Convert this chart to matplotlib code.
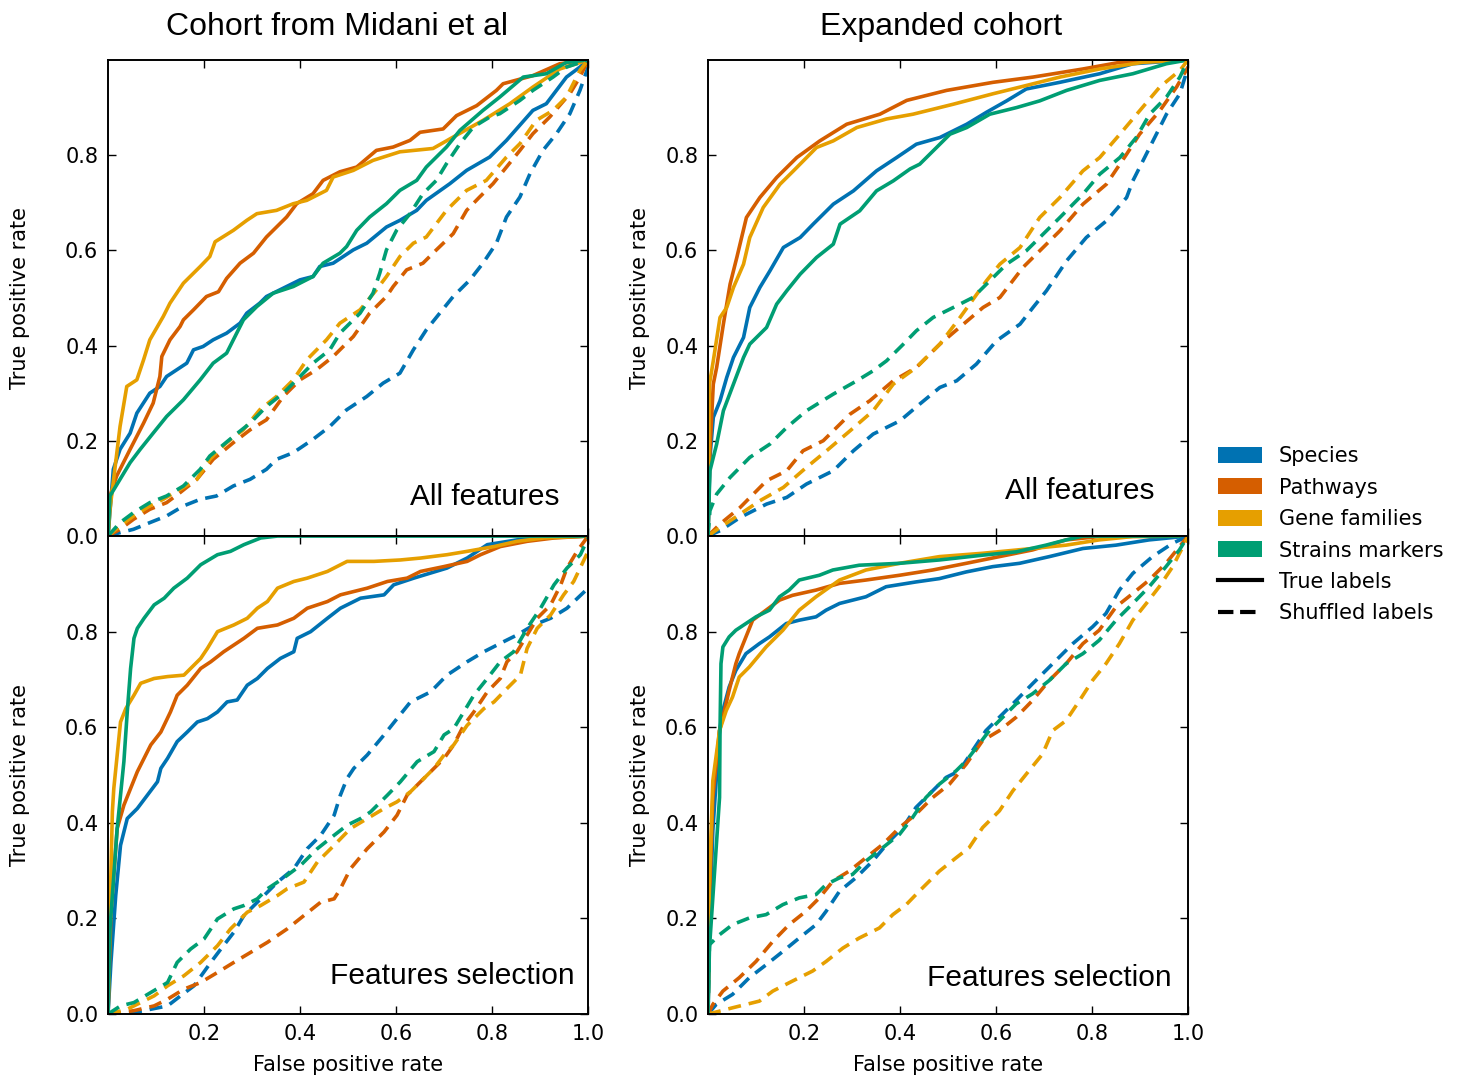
import matplotlib.pyplot as plt
from matplotlib.patches import Patch
from matplotlib.lines import Line2D

plt.rcParams['font.family'] = ['DejaVu Sans']

categories = ['Species', 'Pathways', 'Gene families', 'Strains markers']
colors = ['#0072B2', '#D55E00', '#E69F00', '#009E73']
column_titles = ['Cohort from Midani et al', 'Expanded cohort']
row_texts = ['All features', 'Features selection']
y_ticks = [0.0, 0.2, 0.4, 0.6, 0.8]
x_ticks = [0.2, 0.4, 0.6, 0.8, 1.0]

# ROC curves, (fpr, tpr)
# --- Midani cohort, all features ---
mid_all_species = [(0, 0), (0.011, 0.140), (0.025, 0.182), (0.046, 0.216), (0.060, 0.258), (0.087, 0.300),
                   (0.108, 0.314), (0.122, 0.335), (0.143, 0.349), (0.164, 0.363), (0.178, 0.391), (0.198, 0.398),
                   (0.219, 0.412), (0.247, 0.426), (0.275, 0.447), (0.289, 0.468), (0.316, 0.489), (0.330, 0.503),
                   (0.372, 0.524), (0.400, 0.538), (0.427, 0.545), (0.441, 0.566), (0.469, 0.573), (0.511, 0.601),
                   (0.539, 0.615), (0.580, 0.649), (0.608, 0.663), (0.643, 0.684), (0.663, 0.705), (0.712, 0.740),
                   (0.747, 0.768), (0.795, 0.796), (0.830, 0.831), (0.885, 0.894), (0.913, 0.908), (0.955, 0.964),
                   (0.983, 0.985), (1.0, 1.0)]
mid_all_pathways = [(0, 0), (0.004, 0.084), (0.018, 0.126), (0.046, 0.182), (0.074, 0.237), (0.094, 0.279),
                    (0.108, 0.335), (0.112, 0.377), (0.129, 0.412), (0.150, 0.440), (0.157, 0.454), (0.178, 0.475),
                    (0.205, 0.503), (0.230, 0.513), (0.247, 0.541), (0.275, 0.573), (0.303, 0.594), (0.330, 0.628),
                    (0.372, 0.670), (0.393, 0.698), (0.427, 0.719), (0.448, 0.747), (0.483, 0.765), (0.518, 0.775),
                    (0.559, 0.810), (0.594, 0.817), (0.629, 0.831), (0.650, 0.848), (0.698, 0.855), (0.726, 0.883),
                    (0.768, 0.904), (0.809, 0.936), (0.823, 0.950), (0.885, 0.967), (0.941, 0.992), (1.0, 1.0)]
mid_all_genes = [(0, 0), (0.004, 0.056), (0.015, 0.147), (0.025, 0.230), (0.039, 0.314), (0.060, 0.328),
                 (0.074, 0.370), (0.087, 0.412), (0.115, 0.461), (0.129, 0.489), (0.157, 0.531), (0.192, 0.566),
                 (0.212, 0.587), (0.223, 0.618), (0.261, 0.642), (0.289, 0.663), (0.310, 0.677), (0.351, 0.684),
                 (0.386, 0.698), (0.414, 0.705), (0.455, 0.726), (0.469, 0.754), (0.511, 0.768), (0.552, 0.789),
                 (0.608, 0.807), (0.677, 0.814), (0.719, 0.838), (0.781, 0.873), (0.837, 0.908), (0.885, 0.943),
                 (0.941, 0.981), (1.0, 1.0)]
mid_all_strains = [(0, 0), (0.004, 0.084), (0.025, 0.119), (0.046, 0.154), (0.067, 0.182), (0.094, 0.216),
                   (0.122, 0.251), (0.157, 0.286), (0.192, 0.328), (0.219, 0.363), (0.247, 0.384), (0.282, 0.454),
                   (0.310, 0.482), (0.344, 0.510), (0.386, 0.524), (0.427, 0.545), (0.448, 0.573), (0.483, 0.594),
                   (0.497, 0.608), (0.518, 0.642), (0.545, 0.670), (0.580, 0.698), (0.608, 0.726), (0.643, 0.747),
                   (0.663, 0.775), (0.705, 0.817), (0.733, 0.852), (0.781, 0.894), (0.816, 0.922), (0.865, 0.964),
                   (0.913, 0.971), (0.955, 0.995), (1.0, 1.0)]
mid_all_species_shuf = [(0, 0), (0.025, 0.007), (0.053, 0.014), (0.087, 0.028), (0.122, 0.042), (0.157, 0.063),
                        (0.192, 0.077), (0.226, 0.084), (0.261, 0.105), (0.296, 0.119), (0.330, 0.140), (0.351, 0.161),
                        (0.386, 0.175), (0.427, 0.203), (0.462, 0.230), (0.497, 0.265), (0.539, 0.293), (0.573, 0.321),
                        (0.608, 0.342), (0.636, 0.391), (0.663, 0.433), (0.691, 0.468), (0.719, 0.503), (0.754, 0.538),
                        (0.781, 0.573), (0.809, 0.615), (0.830, 0.670), (0.858, 0.712), (0.879, 0.761), (0.906, 0.810),
                        (0.934, 0.845), (0.962, 0.887), (0.983, 0.936), (1.0, 0.985)]
mid_all_pathways_shuf = [(0, 0), (0.025, 0.014), (0.053, 0.035), (0.087, 0.056), (0.122, 0.070), (0.150, 0.091),
                         (0.185, 0.119), (0.219, 0.161), (0.261, 0.196), (0.296, 0.223), (0.330, 0.244), (0.365, 0.293),
                         (0.400, 0.328), (0.434, 0.349), (0.469, 0.377), (0.511, 0.419), (0.545, 0.468), (0.580, 0.503),
                         (0.594, 0.524), (0.622, 0.559), (0.656, 0.573), (0.684, 0.601), (0.719, 0.635), (0.747, 0.684),
                         (0.774, 0.712), (0.802, 0.740), (0.830, 0.775), (0.858, 0.810), (0.885, 0.845), (0.920, 0.880),
                         (0.962, 0.929), (0.983, 0.964), (1.0, 1.0)]
mid_all_genes_shuf = [(0, 0), (0.025, 0.021), (0.053, 0.042), (0.087, 0.063), (0.115, 0.077), (0.150, 0.098),
                      (0.185, 0.119), (0.212, 0.161), (0.247, 0.196), (0.282, 0.223), (0.316, 0.265), (0.351, 0.293),
                      (0.386, 0.328), (0.414, 0.370), (0.455, 0.412), (0.483, 0.447), (0.525, 0.475), (0.559, 0.517),
                      (0.580, 0.545), (0.608, 0.587), (0.636, 0.615), (0.663, 0.628), (0.705, 0.684), (0.747, 0.726),
                      (0.788, 0.747), (0.830, 0.796), (0.858, 0.824), (0.892, 0.873), (0.927, 0.894), (0.955, 0.922),
                      (0.983, 0.978), (1.0, 1.0)]
mid_all_strains_shuf = [(0, 0), (0.025, 0.028), (0.053, 0.049), (0.087, 0.070), (0.122, 0.084), (0.157, 0.105),
                        (0.192, 0.140), (0.212, 0.168), (0.261, 0.209), (0.296, 0.237), (0.330, 0.272), (0.365, 0.300),
                        (0.400, 0.335), (0.427, 0.363), (0.462, 0.391), (0.483, 0.426), (0.525, 0.468), (0.552, 0.510),
                        (0.566, 0.552), (0.580, 0.601), (0.601, 0.642), (0.629, 0.677), (0.656, 0.719), (0.684, 0.747),
                        (0.705, 0.782), (0.733, 0.824), (0.761, 0.859), (0.795, 0.880), (0.816, 0.887), (0.858, 0.915),
                        (0.885, 0.936), (0.927, 0.964), (0.955, 0.985), (1.0, 1.0)]

# --- Expanded cohort, all features ---
exp_all_species = [(0, 0), (0.004, 0.165), (0.011, 0.249), (0.025, 0.284), (0.039, 0.333), (0.053, 0.375),
                   (0.074, 0.417), (0.087, 0.480), (0.108, 0.522), (0.129, 0.557), (0.157, 0.606), (0.192, 0.627),
                   (0.219, 0.655), (0.261, 0.697), (0.303, 0.725), (0.351, 0.767), (0.393, 0.795), (0.434, 0.823),
                   (0.483, 0.837), (0.539, 0.865), (0.580, 0.890), (0.622, 0.914), (0.663, 0.939), (0.733, 0.953),
                   (0.816, 0.971), (0.885, 0.992), (1.0, 1.0)]
exp_all_pathways = [(0, 0), (0.004, 0.179), (0.011, 0.319), (0.018, 0.354), (0.032, 0.445), (0.046, 0.529),
                    (0.060, 0.585), (0.080, 0.669), (0.108, 0.711), (0.143, 0.753), (0.185, 0.795), (0.233, 0.830),
                    (0.289, 0.865), (0.358, 0.886), (0.414, 0.915), (0.497, 0.936), (0.594, 0.953), (0.677, 0.964),
                    (0.781, 0.981), (0.858, 0.995), (1.0, 1.0)]
exp_all_genes = [(0, 0), (0.003, 0.319), (0.011, 0.368), (0.025, 0.459), (0.039, 0.480), (0.053, 0.522),
                 (0.074, 0.571), (0.087, 0.627), (0.115, 0.690), (0.150, 0.739), (0.178, 0.767), (0.226, 0.816),
                 (0.261, 0.830), (0.310, 0.858), (0.372, 0.876), (0.427, 0.886), (0.511, 0.907), (0.594, 0.929),
                 (0.650, 0.943), (0.733, 0.964), (0.816, 0.981), (0.906, 0.995), (1.0, 1.0)]
exp_all_strains = [(0, 0), (0.004, 0.137), (0.018, 0.193), (0.032, 0.263), (0.053, 0.319), (0.074, 0.375),
                   (0.087, 0.403), (0.122, 0.438), (0.143, 0.487), (0.164, 0.515), (0.192, 0.550), (0.226, 0.585),
                   (0.261, 0.613), (0.275, 0.655), (0.316, 0.683), (0.351, 0.725), (0.386, 0.746), (0.421, 0.771),
                   (0.441, 0.781), (0.469, 0.809), (0.504, 0.844), (0.539, 0.858), (0.587, 0.886), (0.643, 0.900),
                   (0.691, 0.914), (0.747, 0.936), (0.816, 0.957), (0.885, 0.971), (0.955, 0.992), (1.0, 1.0)]
exp_all_species_shuf = [(0, 0), (0.025, 0.011), (0.067, 0.039), (0.122, 0.067), (0.164, 0.081), (0.205, 0.109),
                        (0.261, 0.137), (0.303, 0.179), (0.344, 0.214), (0.400, 0.242), (0.441, 0.277), (0.483, 0.312),
                        (0.518, 0.326), (0.559, 0.361), (0.601, 0.410), (0.650, 0.445), (0.677, 0.480), (0.705, 0.515),
                        (0.747, 0.578), (0.788, 0.627), (0.830, 0.662), (0.872, 0.711), (0.885, 0.746), (0.913, 0.802),
                        (0.934, 0.844), (0.955, 0.886), (0.983, 0.929), (1.0, 0.985)]
exp_all_pathways_shuf = [(0, 0), (0.025, 0.025), (0.067, 0.060), (0.122, 0.116), (0.164, 0.137), (0.198, 0.179),
                         (0.240, 0.200), (0.261, 0.221), (0.296, 0.256), (0.337, 0.284), (0.386, 0.326), (0.434, 0.354),
                         (0.483, 0.403), (0.532, 0.445), (0.573, 0.480), (0.608, 0.501), (0.656, 0.564), (0.691, 0.599),
                         (0.733, 0.641), (0.781, 0.697), (0.830, 0.739), (0.872, 0.802), (0.899, 0.844), (0.941, 0.893),
                         (0.976, 0.943), (1.0, 0.985)]
exp_all_genes_shuf = [(0, 0), (0.025, 0.018), (0.067, 0.046), (0.108, 0.074), (0.157, 0.102), (0.205, 0.144),
                      (0.247, 0.179), (0.296, 0.221), (0.344, 0.263), (0.386, 0.319), (0.434, 0.354), (0.483, 0.403),
                      (0.525, 0.459), (0.580, 0.536), (0.608, 0.571), (0.650, 0.606), (0.691, 0.669), (0.733, 0.711),
                      (0.781, 0.767), (0.816, 0.795), (0.858, 0.844), (0.899, 0.893), (0.941, 0.943), (0.983, 0.978),
                      (1.0, 1.0)]
exp_all_strains_shuf = [(0, 0), (0.004, 0.053), (0.018, 0.088), (0.046, 0.123), (0.087, 0.165), (0.129, 0.193),
                        (0.164, 0.228), (0.205, 0.263), (0.261, 0.298), (0.310, 0.326), (0.344, 0.347), (0.372, 0.368),
                        (0.407, 0.403), (0.434, 0.431), (0.469, 0.459), (0.511, 0.480), (0.552, 0.501), (0.587, 0.536),
                        (0.622, 0.571), (0.663, 0.599), (0.705, 0.641), (0.733, 0.669), (0.781, 0.718), (0.816, 0.760),
                        (0.858, 0.795), (0.892, 0.837), (0.920, 0.886), (0.955, 0.922), (0.983, 0.964), (1.0, 1.0)]

# --- Midani cohort, features selection ---
mid_sel_species = [(0, 0), (0.006, 0.108), (0.016, 0.248), (0.026, 0.353), (0.040, 0.409), (0.061, 0.430),
                   (0.082, 0.458), (0.103, 0.486), (0.110, 0.514), (0.124, 0.535), (0.144, 0.570), (0.165, 0.590),
                   (0.186, 0.611), (0.207, 0.618), (0.228, 0.632), (0.248, 0.653), (0.269, 0.657), (0.290, 0.688),
                   (0.311, 0.702), (0.332, 0.723), (0.359, 0.744), (0.387, 0.758), (0.394, 0.786), (0.422, 0.800),
                   (0.457, 0.828), (0.484, 0.849), (0.526, 0.870), (0.575, 0.877), (0.595, 0.898), (0.637, 0.912),
                   (0.706, 0.933), (0.748, 0.954), (0.790, 0.982), (0.852, 0.992), (0.922, 0.997), (1.0, 1.0)]
mid_sel_pathways = [(0, 0), (0.006, 0.213), (0.019, 0.388), (0.033, 0.437), (0.047, 0.472), (0.061, 0.507),
                    (0.075, 0.535), (0.089, 0.563), (0.110, 0.590), (0.130, 0.632), (0.144, 0.667), (0.165, 0.688),
                    (0.193, 0.723), (0.214, 0.737), (0.241, 0.758), (0.262, 0.772), (0.283, 0.786), (0.311, 0.807),
                    (0.353, 0.814), (0.387, 0.828), (0.415, 0.849), (0.457, 0.863), (0.484, 0.877), (0.540, 0.891),
                    (0.582, 0.905), (0.623, 0.912), (0.651, 0.926), (0.699, 0.936), (0.748, 0.947), (0.776, 0.961),
                    (0.817, 0.978), (0.873, 0.989), (0.929, 0.996), (1.0, 1.0)]
mid_sel_genes = [(0, 0), (0.004, 0.213), (0.009, 0.423), (0.012, 0.472), (0.026, 0.611), (0.037, 0.639),
                 (0.054, 0.667), (0.068, 0.692), (0.096, 0.702), (0.124, 0.706), (0.158, 0.709), (0.172, 0.723),
                 (0.193, 0.744), (0.207, 0.765), (0.228, 0.800), (0.262, 0.814), (0.290, 0.828), (0.311, 0.849),
                 (0.332, 0.863), (0.353, 0.891), (0.387, 0.905), (0.415, 0.912), (0.457, 0.926), (0.498, 0.947),
                 (0.554, 0.947), (0.609, 0.950), (0.651, 0.954), (0.706, 0.961), (0.748, 0.968), (0.804, 0.978),
                 (0.852, 0.989), (0.908, 0.996), (1.0, 1.0)]
mid_sel_strains = [(0, 0), (0.004, 0.178), (0.019, 0.388), (0.033, 0.528), (0.040, 0.632), (0.047, 0.723),
                   (0.054, 0.786), (0.061, 0.807), (0.075, 0.828), (0.096, 0.856), (0.117, 0.870), (0.137, 0.891),
                   (0.165, 0.912), (0.193, 0.940), (0.228, 0.961), (0.255, 0.968), (0.283, 0.982), (0.318, 0.996),
                   (0.353, 1.0), (1.0, 1.0)]
mid_sel_species_shuf = [(0, 0), (0.054, 0.003), (0.089, 0.010), (0.124, 0.017), (0.151, 0.038), (0.179, 0.059),
                        (0.214, 0.108), (0.235, 0.136), (0.262, 0.171), (0.283, 0.206), (0.318, 0.241), (0.353, 0.276),
                        (0.387, 0.304), (0.415, 0.346), (0.443, 0.374), (0.471, 0.416), (0.484, 0.458), (0.498, 0.493),
                        (0.512, 0.514), (0.540, 0.542), (0.575, 0.584), (0.602, 0.618), (0.630, 0.653), (0.672, 0.674),
                        (0.706, 0.709), (0.748, 0.737), (0.783, 0.758), (0.824, 0.779), (0.852, 0.793), (0.887, 0.814),
                        (0.922, 0.828), (0.956, 0.849), (1.0, 0.891)]
mid_sel_pathways_shuf = [(0, 0), (0.054, 0.007), (0.096, 0.017), (0.124, 0.031), (0.158, 0.052), (0.193, 0.066),
                         (0.228, 0.087), (0.262, 0.108), (0.297, 0.129), (0.332, 0.150), (0.373, 0.178), (0.408, 0.206),
                         (0.443, 0.234), (0.471, 0.241), (0.484, 0.262), (0.505, 0.304), (0.540, 0.346), (0.575, 0.381),
                         (0.602, 0.416), (0.623, 0.458), (0.651, 0.486), (0.679, 0.514), (0.700, 0.535), (0.720, 0.563),
                         (0.741, 0.604), (0.762, 0.632), (0.790, 0.674), (0.817, 0.702), (0.831, 0.737), (0.852, 0.758),
                         (0.873, 0.793), (0.894, 0.828), (0.922, 0.856), (0.943, 0.898), (0.956, 0.933), (0.977, 0.968),
                         (1.0, 1.0)]
mid_sel_genes_shuf = [(0, 0), (0.040, 0.010), (0.068, 0.024), (0.096, 0.038), (0.124, 0.059), (0.158, 0.080),
                      (0.193, 0.108), (0.228, 0.143), (0.255, 0.178), (0.290, 0.213), (0.318, 0.227), (0.353, 0.248),
                      (0.373, 0.262), (0.408, 0.276), (0.436, 0.318), (0.471, 0.353), (0.505, 0.388), (0.540, 0.409),
                      (0.575, 0.430), (0.602, 0.444), (0.630, 0.465), (0.651, 0.486), (0.679, 0.514), (0.700, 0.542),
                      (0.720, 0.563), (0.748, 0.604), (0.783, 0.639), (0.804, 0.653), (0.831, 0.681), (0.859, 0.709),
                      (0.873, 0.765), (0.894, 0.807), (0.922, 0.835), (0.949, 0.877), (0.970, 0.905), (1.0, 0.968)]
mid_sel_strains_shuf = [(0, 0), (0.026, 0.017), (0.054, 0.024), (0.089, 0.045), (0.124, 0.066), (0.144, 0.108),
                        (0.172, 0.136), (0.200, 0.157), (0.228, 0.199), (0.262, 0.220), (0.283, 0.227), (0.311, 0.241),
                        (0.332, 0.262), (0.353, 0.276), (0.373, 0.290), (0.401, 0.311), (0.436, 0.346), (0.471, 0.374),
                        (0.498, 0.395), (0.526, 0.409), (0.547, 0.423), (0.582, 0.458), (0.609, 0.486), (0.644, 0.528),
                        (0.679, 0.549), (0.700, 0.584), (0.720, 0.597), (0.741, 0.632), (0.762, 0.667), (0.790, 0.702),
                        (0.817, 0.737), (0.845, 0.758), (0.873, 0.807), (0.901, 0.849), (0.929, 0.898), (0.956, 0.933),
                        (0.984, 0.961), (1.0, 0.996)]

# --- Expanded cohort, features selection ---
exp_sel_species = [(0, 0), (0.003, 0.173), (0.010, 0.383), (0.024, 0.593), (0.031, 0.635), (0.044, 0.684),
                   (0.058, 0.719), (0.079, 0.754), (0.107, 0.775), (0.128, 0.789), (0.163, 0.817), (0.190, 0.824),
                   (0.225, 0.831), (0.246, 0.845), (0.274, 0.859), (0.329, 0.873), (0.371, 0.894), (0.433, 0.904),
                   (0.482, 0.911), (0.538, 0.925), (0.593, 0.936), (0.649, 0.943), (0.711, 0.957), (0.781, 0.974),
                   (0.850, 0.981), (0.919, 0.992), (1.0, 1.0)]
exp_sel_pathways = [(0, 0), (0.003, 0.243), (0.010, 0.453), (0.024, 0.593), (0.031, 0.621), (0.044, 0.677),
                    (0.058, 0.733), (0.065, 0.754), (0.079, 0.789), (0.093, 0.824), (0.121, 0.845), (0.149, 0.866),
                    (0.176, 0.876), (0.225, 0.887), (0.274, 0.901), (0.329, 0.908), (0.399, 0.918), (0.468, 0.929),
                    (0.538, 0.943), (0.607, 0.957), (0.676, 0.971), (0.746, 0.992), (0.815, 0.999), (1.0, 1.0)]
exp_sel_genes = [(0, 0), (0.003, 0.278), (0.010, 0.488), (0.024, 0.593), (0.038, 0.635), (0.051, 0.663),
                 (0.065, 0.705), (0.086, 0.726), (0.121, 0.768), (0.156, 0.803), (0.190, 0.845), (0.225, 0.873),
                 (0.274, 0.908), (0.329, 0.929), (0.399, 0.943), (0.482, 0.957), (0.572, 0.964), (0.676, 0.974),
                 (0.746, 0.981), (0.815, 0.992), (0.885, 0.999), (1.0, 1.0)]
exp_sel_strains = [(0, 0), (0.003, 0.138), (0.010, 0.243), (0.017, 0.348), (0.024, 0.453), (0.025, 0.593),
                   (0.027, 0.733), (0.031, 0.768), (0.044, 0.789), (0.058, 0.803), (0.079, 0.817), (0.100, 0.831),
                   (0.128, 0.845), (0.149, 0.873), (0.169, 0.887), (0.190, 0.908), (0.232, 0.918), (0.260, 0.929),
                   (0.315, 0.939), (0.399, 0.943), (0.482, 0.950), (0.572, 0.960), (0.642, 0.967), (0.704, 0.981),
                   (0.746, 0.992), (0.781, 1.0), (1.0, 1.0)]
exp_sel_species_shuf = [(0, 0), (0.017, 0.020), (0.051, 0.041), (0.086, 0.076), (0.121, 0.103), (0.156, 0.131),
                        (0.190, 0.159), (0.225, 0.187), (0.246, 0.215), (0.274, 0.257), (0.308, 0.285), (0.343, 0.320),
                        (0.378, 0.362), (0.406, 0.390), (0.433, 0.432), (0.468, 0.467), (0.496, 0.495), (0.524, 0.509),
                        (0.551, 0.551), (0.579, 0.593), (0.607, 0.621), (0.635, 0.649), (0.676, 0.691), (0.718, 0.733),
                        (0.760, 0.775), (0.801, 0.810), (0.829, 0.838), (0.857, 0.887), (0.885, 0.922), (0.926, 0.957),
                        (0.968, 0.985), (1.0, 1.0)]
exp_sel_pathways_shuf = [(0, 0), (0.010, 0.020), (0.031, 0.048), (0.065, 0.076), (0.100, 0.110), (0.135, 0.152),
                         (0.169, 0.187), (0.204, 0.215), (0.232, 0.243), (0.260, 0.278), (0.294, 0.299), (0.329, 0.327),
                         (0.364, 0.355), (0.399, 0.390), (0.433, 0.418), (0.468, 0.453), (0.503, 0.481), (0.538, 0.523),
                         (0.572, 0.572), (0.607, 0.593), (0.642, 0.621), (0.676, 0.656), (0.711, 0.698), (0.746, 0.733),
                         (0.781, 0.775), (0.815, 0.803), (0.850, 0.852), (0.885, 0.880), (0.919, 0.908), (0.954, 0.943),
                         (1.0, 1.0)]
exp_sel_genes_shuf = [(0, 0), (0.024, 0.006), (0.051, 0.013), (0.107, 0.027), (0.135, 0.048), (0.176, 0.069),
                      (0.218, 0.090), (0.246, 0.110), (0.281, 0.138), (0.315, 0.159), (0.357, 0.180), (0.385, 0.208),
                      (0.413, 0.229), (0.440, 0.257), (0.482, 0.299), (0.517, 0.327), (0.544, 0.348), (0.572, 0.390),
                      (0.607, 0.425), (0.635, 0.467), (0.663, 0.502), (0.697, 0.544), (0.718, 0.593), (0.746, 0.614),
                      (0.774, 0.656), (0.801, 0.698), (0.829, 0.733), (0.857, 0.775), (0.885, 0.824), (0.913, 0.859),
                      (0.940, 0.894), (0.968, 0.936), (1.0, 0.999)]
exp_sel_strains_shuf = [(0, 0), (0.003, 0.145), (0.024, 0.166), (0.051, 0.187), (0.086, 0.201), (0.121, 0.208),
                        (0.156, 0.229), (0.190, 0.243), (0.225, 0.250), (0.246, 0.271), (0.274, 0.285), (0.301, 0.292),
                        (0.329, 0.320), (0.364, 0.348), (0.399, 0.376), (0.426, 0.411), (0.454, 0.453), (0.482, 0.481),
                        (0.517, 0.509), (0.538, 0.530), (0.565, 0.565), (0.586, 0.593), (0.614, 0.621), (0.642, 0.649),
                        (0.676, 0.670), (0.711, 0.698), (0.746, 0.733), (0.781, 0.754), (0.815, 0.782), (0.850, 0.824),
                        (0.885, 0.859), (0.919, 0.894), (0.954, 0.936), (0.982, 0.971), (1.0, 1.0)]

# panel layout: (row, col) -> true-label curves, shuffled curves (in category order)
panels = {
    (0, 0): ([mid_all_species, mid_all_pathways, mid_all_genes, mid_all_strains],
             [mid_all_species_shuf, mid_all_pathways_shuf, mid_all_genes_shuf, mid_all_strains_shuf]),
    (0, 1): ([exp_all_species, exp_all_pathways, exp_all_genes, exp_all_strains],
             [exp_all_species_shuf, exp_all_pathways_shuf, exp_all_genes_shuf, exp_all_strains_shuf]),
    (1, 0): ([mid_sel_species, mid_sel_pathways, mid_sel_genes, mid_sel_strains],
             [mid_sel_species_shuf, mid_sel_pathways_shuf, mid_sel_genes_shuf, mid_sel_strains_shuf]),
    (1, 1): ([exp_sel_species, exp_sel_pathways, exp_sel_genes, exp_sel_strains],
             [exp_sel_species_shuf, exp_sel_pathways_shuf, exp_sel_genes_shuf, exp_sel_strains_shuf]),
}

fig = plt.figure(figsize=(14.68, 10.76), dpi=100)

lefts = [0.0736, 0.4823]
bottoms = [0.5019, 0.0576]
heights = [0.4424, 0.4442]
width = 0.327
text_pos = {(0, 0): (0.94, 0.082), (0, 1): (0.931, 0.095),
            (1, 0): (0.973, 0.079), (1, 1): (0.965, 0.075)}
ylabel_x = [-0.1625, -0.121]
title_x = [0.477, 0.485]
dash = (0, (3.6, 2.2))

for (r, c), (true_curves, shuf_curves) in panels.items():
    ax = fig.add_axes([lefts[c], bottoms[r], width, heights[r]])
    for pts, col in zip(true_curves, colors):
        ax.plot([p[0] for p in pts], [p[1] for p in pts], color=col, lw=2.6, ls='-')
    for pts, col in zip(shuf_curves, colors):
        ax.plot([p[0] for p in pts], [p[1] for p in pts], color=col, lw=2.6, ls=dash)

    ax.set_xlim(0, 1)
    ax.set_ylim(0, 1)
    ax.set_yticks(y_ticks)
    ax.set_xticks(x_ticks)
    ax.tick_params(direction='in', top=True, right=True, length=6, width=1, labelsize=15, pad=7)
    for s in ax.spines.values():
        s.set_linewidth(1.4)
    if r == 0:
        ax.set_xticklabels([])
        ax.set_title(column_titles[c], fontsize=23, family='Liberation Sans', pad=18, x=title_x[c])
    else:
        ax.set_xlabel('False positive rate', fontsize=15, labelpad=8)
    ax.set_ylabel('True positive rate', fontsize=15)
    ax.yaxis.set_label_coords(ylabel_x[c], 0.5)
    tx, ty = text_pos[(r, c)]
    ax.text(tx, ty, row_texts[r], transform=ax.transAxes, ha='right', va='center',
            fontsize=21.5, family='Liberation Sans')

handles = [Patch(facecolor=col, edgecolor='none') for col in colors]
handles += [Line2D([], [], color='black', lw=3, ls='-'), Line2D([], [], color='black', lw=3, ls='--')]
labels = categories + ['True labels', 'Shuffled labels']
fig.legend(handles, labels, loc='center left', bbox_to_anchor=(0.817, 0.503), frameon=False,
           fontsize=15, handlelength=2.1, handleheight=0.8, handletextpad=0.8, labelspacing=0.55)

fig.savefig('out.png', dpi=100)
